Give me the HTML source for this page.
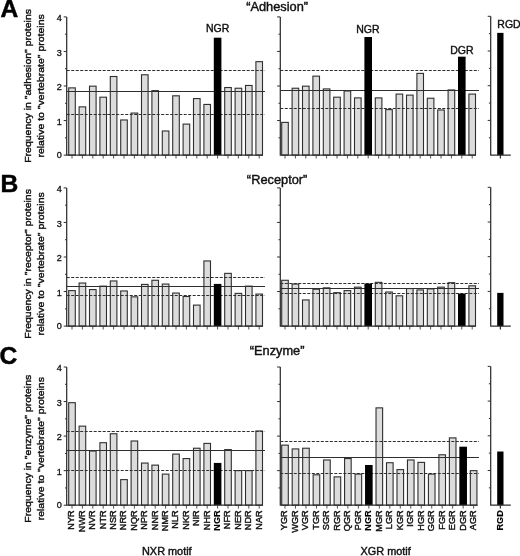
<!DOCTYPE html>
<html>
<head>
<meta charset="utf-8">
<title>Figure</title>
<style>
html,body{margin:0;padding:0;background:#fff;}
body{width:520px;height:556px;overflow:hidden;}
svg{display:block;filter:grayscale(1) blur(0.3px);}
svg text.pl{fill:#000;stroke:#000;stroke-width:0.5px;}
svg text.b{fill:#000;stroke:#000;stroke-width:0.12px;}
svg text.tk{stroke-width:0.3px;}
svg text{font-family:"Liberation Sans",sans-serif;fill:#111;stroke:#111;stroke-width:0.4px;}
</style>
</head>
<body>
<svg width="520" height="556" viewBox="0 0 520 556">
<rect width="520" height="556" fill="#fff"/>
<g>
<text x="0.5" y="17.4" font-size="24.6" font-weight="bold" class="pl">A</text>
<text transform="translate(277.1 10.8) scale(1.05 1)" font-size="12.2" text-anchor="middle">“Adhesion”</text>
<text transform="translate(31.2 85.9) rotate(-90) scale(1.117 1)" font-size="9.4" text-anchor="middle">Frequency in "adhesion" proteins</text>
<text transform="translate(43.8 85.9) rotate(-90) scale(1.117 1)" font-size="9.4" text-anchor="middle">relative to "vertebrate" proteins</text>
<rect x="68.7" y="87.88" width="6.6" height="67.22" fill="#dcdcdc" stroke="#2e2e2e" stroke-width="1.1"/>
<rect x="79.1" y="106.86" width="6.6" height="48.24" fill="#dcdcdc" stroke="#2e2e2e" stroke-width="1.1"/>
<rect x="89.5" y="86.16" width="6.6" height="68.94" fill="#dcdcdc" stroke="#2e2e2e" stroke-width="1.1"/>
<rect x="99.9" y="97.19" width="6.6" height="57.91" fill="#dcdcdc" stroke="#2e2e2e" stroke-width="1.1"/>
<rect x="110.3" y="76.5" width="6.6" height="78.6" fill="#dcdcdc" stroke="#2e2e2e" stroke-width="1.1"/>
<rect x="120.7" y="119.97" width="6.6" height="35.13" fill="#dcdcdc" stroke="#2e2e2e" stroke-width="1.1"/>
<rect x="131.1" y="113.06" width="6.6" height="42.03" fill="#dcdcdc" stroke="#2e2e2e" stroke-width="1.1"/>
<rect x="141.5" y="74.77" width="6.6" height="80.33" fill="#dcdcdc" stroke="#2e2e2e" stroke-width="1.1"/>
<rect x="151.9" y="90.64" width="6.6" height="64.46" fill="#dcdcdc" stroke="#2e2e2e" stroke-width="1.1"/>
<rect x="162.3" y="131" width="6.6" height="24.09" fill="#dcdcdc" stroke="#2e2e2e" stroke-width="1.1"/>
<rect x="172.7" y="95.81" width="6.6" height="59.28" fill="#dcdcdc" stroke="#2e2e2e" stroke-width="1.1"/>
<rect x="183.1" y="124.11" width="6.6" height="30.99" fill="#dcdcdc" stroke="#2e2e2e" stroke-width="1.1"/>
<rect x="193.5" y="98.58" width="6.6" height="56.52" fill="#dcdcdc" stroke="#2e2e2e" stroke-width="1.1"/>
<rect x="203.9" y="104.44" width="6.6" height="50.66" fill="#dcdcdc" stroke="#2e2e2e" stroke-width="1.1"/>
<rect x="224.7" y="87.53" width="6.6" height="67.56" fill="#dcdcdc" stroke="#2e2e2e" stroke-width="1.1"/>
<rect x="235.1" y="88.23" width="6.6" height="66.87" fill="#dcdcdc" stroke="#2e2e2e" stroke-width="1.1"/>
<rect x="245.5" y="85.47" width="6.6" height="69.63" fill="#dcdcdc" stroke="#2e2e2e" stroke-width="1.1"/>
<rect x="255.9" y="61.66" width="6.6" height="93.44" fill="#dcdcdc" stroke="#2e2e2e" stroke-width="1.1"/>
<path d="M72 155.1v3.4M82.4 155.1v3.4M92.8 155.1v3.4M103.2 155.1v3.4M113.6 155.1v3.4M124 155.1v3.4M134.4 155.1v3.4M144.8 155.1v3.4M155.2 155.1v3.4M165.6 155.1v3.4M176 155.1v3.4M186.4 155.1v3.4M196.8 155.1v3.4M207.2 155.1v3.4M217.6 155.1v3.4M228 155.1v3.4M238.4 155.1v3.4M248.8 155.1v3.4M259.2 155.1v3.4" stroke="#555" stroke-width="1" fill="none"/>
<path d="M66.7 91.5H265" stroke="#2e2e2e" stroke-width="1.2" fill="none"/>
<path d="M66.7 70.5H265M66.7 114.5H265" stroke="#2e2e2e" stroke-width="1.2" stroke-dasharray="3 1.5" fill="none"/>
<rect x="213.8" y="37.7" width="7.6" height="117.4" fill="#000"/>
<path d="M66.7 16.9V155.1H263" stroke="#2e2e2e" stroke-width="1.25" fill="none"/>
<path d="M66.7 155.1h-3M66.7 137.82h-1.7M66.7 120.55h-3M66.7 103.28h-1.7M66.7 86h-3M66.7 68.72h-1.7M66.7 51.45h-3M66.7 34.18h-1.7M66.7 16.9h-3" stroke="#2e2e2e" stroke-width="1" fill="none"/>
<text transform="translate(61.9 157.9) scale(1.08 1)" font-size="8.4" text-anchor="end" class="tk">0</text>
<text transform="translate(61.9 124.85) scale(1.08 1)" font-size="8.4" text-anchor="end" class="tk">1</text>
<text transform="translate(61.9 90.3) scale(1.08 1)" font-size="8.4" text-anchor="end" class="tk">2</text>
<text transform="translate(61.9 55.75) scale(1.08 1)" font-size="8.4" text-anchor="end" class="tk">3</text>
<text transform="translate(61.9 21.2) scale(1.08 1)" font-size="8.4" text-anchor="end" class="tk">4</text>
<rect x="281.7" y="122.38" width="6.6" height="32.72" fill="#dcdcdc" stroke="#2e2e2e" stroke-width="1.1"/>
<rect x="292.1" y="88.23" width="6.6" height="66.87" fill="#dcdcdc" stroke="#2e2e2e" stroke-width="1.1"/>
<rect x="302.5" y="86.16" width="6.6" height="68.94" fill="#dcdcdc" stroke="#2e2e2e" stroke-width="1.1"/>
<rect x="312.9" y="76.15" width="6.6" height="78.95" fill="#dcdcdc" stroke="#2e2e2e" stroke-width="1.1"/>
<rect x="323.3" y="88.92" width="6.6" height="66.18" fill="#dcdcdc" stroke="#2e2e2e" stroke-width="1.1"/>
<rect x="333.7" y="97.19" width="6.6" height="57.91" fill="#dcdcdc" stroke="#2e2e2e" stroke-width="1.1"/>
<rect x="344.1" y="90.98" width="6.6" height="64.11" fill="#dcdcdc" stroke="#2e2e2e" stroke-width="1.1"/>
<rect x="354.5" y="97.89" width="6.6" height="57.21" fill="#dcdcdc" stroke="#2e2e2e" stroke-width="1.1"/>
<rect x="375.3" y="97.89" width="6.6" height="57.21" fill="#dcdcdc" stroke="#2e2e2e" stroke-width="1.1"/>
<rect x="385.7" y="109.61" width="6.6" height="45.48" fill="#dcdcdc" stroke="#2e2e2e" stroke-width="1.1"/>
<rect x="396.1" y="94.09" width="6.6" height="61.01" fill="#dcdcdc" stroke="#2e2e2e" stroke-width="1.1"/>
<rect x="406.5" y="95.12" width="6.6" height="59.97" fill="#dcdcdc" stroke="#2e2e2e" stroke-width="1.1"/>
<rect x="416.9" y="73.39" width="6.6" height="81.71" fill="#dcdcdc" stroke="#2e2e2e" stroke-width="1.1"/>
<rect x="427.3" y="98.23" width="6.6" height="56.87" fill="#dcdcdc" stroke="#2e2e2e" stroke-width="1.1"/>
<rect x="437.7" y="109.96" width="6.6" height="45.14" fill="#dcdcdc" stroke="#2e2e2e" stroke-width="1.1"/>
<rect x="448.1" y="89.95" width="6.6" height="65.15" fill="#dcdcdc" stroke="#2e2e2e" stroke-width="1.1"/>
<rect x="468.9" y="94.09" width="6.6" height="61.01" fill="#dcdcdc" stroke="#2e2e2e" stroke-width="1.1"/>
<path d="M285 155.1v3.4M295.4 155.1v3.4M305.8 155.1v3.4M316.2 155.1v3.4M326.6 155.1v3.4M337 155.1v3.4M347.4 155.1v3.4M357.8 155.1v3.4M368.2 155.1v3.4M378.6 155.1v3.4M389 155.1v3.4M399.4 155.1v3.4M409.8 155.1v3.4M420.2 155.1v3.4M430.6 155.1v3.4M441 155.1v3.4M451.4 155.1v3.4M461.8 155.1v3.4M472.2 155.1v3.4" stroke="#555" stroke-width="1" fill="none"/>
<path d="M280.3 90.5H479" stroke="#2e2e2e" stroke-width="1.2" fill="none"/>
<path d="M280.3 70.5H479M280.3 108.5H479" stroke="#2e2e2e" stroke-width="1.2" stroke-dasharray="3 1.5" fill="none"/>
<rect x="364.4" y="37.01" width="7.6" height="118.09" fill="#000"/>
<rect x="458" y="56.67" width="7.6" height="98.42" fill="#000"/>
<path d="M280.3 16.9V155.1H476" stroke="#2e2e2e" stroke-width="1.25" fill="none"/>
<path d="M280.3 137.82h-1.8M280.3 120.55h-3.2M280.3 103.28h-1.8M280.3 86h-3.2M280.3 68.72h-1.8M280.3 51.45h-3.2M280.3 34.18h-1.8M280.3 16.9h-3.2" stroke="#2e2e2e" stroke-width="1" fill="none"/>
<rect x="497.2" y="32.87" width="6.3" height="122.23" fill="#000"/>
<path d="M490.7 16.3V155.1H510.8M500.4 155.1v3.4" stroke="#2e2e2e" stroke-width="1.25" fill="none"/>
<path d="M490.7 137.75h-1.8M490.7 120.4h-3.0M490.7 103.05h-1.8M490.7 85.7h-3.0M490.7 68.35h-1.8M490.7 51h-3.0M490.7 33.65h-1.8M490.7 16.3h-3.0" stroke="#2e2e2e" stroke-width="1" fill="none"/>
<text x="217.6" y="32" font-size="10.5" text-anchor="middle" fill="#000">NGR</text>
<text x="367.8" y="33.2" font-size="10.5" text-anchor="middle" fill="#000">NGR</text>
<text x="461.8" y="54" font-size="10.5" text-anchor="middle" fill="#000">DGR</text>
<text x="497.3" y="27.9" font-size="10.5" fill="#000">RGD</text>
</g>
<g>
<text x="0.6" y="191.9" font-size="24.6" font-weight="bold" class="pl">B</text>
<text transform="translate(277.1 183.6) scale(1.05 1)" font-size="12.2" text-anchor="middle">“Receptor”</text>
<text transform="translate(31.2 263.9) rotate(-90) scale(1.117 1)" font-size="9.4" text-anchor="middle">Frequency in "receptor" proteins</text>
<text transform="translate(43.8 263.9) rotate(-90) scale(1.117 1)" font-size="9.4" text-anchor="middle">relative to "vertebrate" proteins</text>
<rect x="68.7" y="290.62" width="6.6" height="35.48" fill="#dcdcdc" stroke="#2e2e2e" stroke-width="1.1"/>
<rect x="79.1" y="283.03" width="6.6" height="43.07" fill="#dcdcdc" stroke="#2e2e2e" stroke-width="1.1"/>
<rect x="89.5" y="289.58" width="6.6" height="36.52" fill="#dcdcdc" stroke="#2e2e2e" stroke-width="1.1"/>
<rect x="99.9" y="286.13" width="6.6" height="39.97" fill="#dcdcdc" stroke="#2e2e2e" stroke-width="1.1"/>
<rect x="110.3" y="280.96" width="6.6" height="45.14" fill="#dcdcdc" stroke="#2e2e2e" stroke-width="1.1"/>
<rect x="120.7" y="290.96" width="6.6" height="35.14" fill="#dcdcdc" stroke="#2e2e2e" stroke-width="1.1"/>
<rect x="131.1" y="296.83" width="6.6" height="29.27" fill="#dcdcdc" stroke="#2e2e2e" stroke-width="1.1"/>
<rect x="141.5" y="284.41" width="6.6" height="41.69" fill="#dcdcdc" stroke="#2e2e2e" stroke-width="1.1"/>
<rect x="151.9" y="280.27" width="6.6" height="45.83" fill="#dcdcdc" stroke="#2e2e2e" stroke-width="1.1"/>
<rect x="162.3" y="284.06" width="6.6" height="42.04" fill="#dcdcdc" stroke="#2e2e2e" stroke-width="1.1"/>
<rect x="172.7" y="293.04" width="6.6" height="33.06" fill="#dcdcdc" stroke="#2e2e2e" stroke-width="1.1"/>
<rect x="183.1" y="296.49" width="6.6" height="29.62" fill="#dcdcdc" stroke="#2e2e2e" stroke-width="1.1"/>
<rect x="193.5" y="305.11" width="6.6" height="20.99" fill="#dcdcdc" stroke="#2e2e2e" stroke-width="1.1"/>
<rect x="203.9" y="260.95" width="6.6" height="65.15" fill="#dcdcdc" stroke="#2e2e2e" stroke-width="1.1"/>
<rect x="224.7" y="273.37" width="6.6" height="52.73" fill="#dcdcdc" stroke="#2e2e2e" stroke-width="1.1"/>
<rect x="235.1" y="293.38" width="6.6" height="32.72" fill="#dcdcdc" stroke="#2e2e2e" stroke-width="1.1"/>
<rect x="245.5" y="286.13" width="6.6" height="39.97" fill="#dcdcdc" stroke="#2e2e2e" stroke-width="1.1"/>
<rect x="255.9" y="294.07" width="6.6" height="32.03" fill="#dcdcdc" stroke="#2e2e2e" stroke-width="1.1"/>
<path d="M72 326.1v3.4M82.4 326.1v3.4M92.8 326.1v3.4M103.2 326.1v3.4M113.6 326.1v3.4M124 326.1v3.4M134.4 326.1v3.4M144.8 326.1v3.4M155.2 326.1v3.4M165.6 326.1v3.4M176 326.1v3.4M186.4 326.1v3.4M196.8 326.1v3.4M207.2 326.1v3.4M217.6 326.1v3.4M228 326.1v3.4M238.4 326.1v3.4M248.8 326.1v3.4M259.2 326.1v3.4" stroke="#555" stroke-width="1" fill="none"/>
<path d="M66.7 286.5H265" stroke="#2e2e2e" stroke-width="1.2" fill="none"/>
<path d="M66.7 277.5H265M66.7 295.5H265" stroke="#2e2e2e" stroke-width="1.2" stroke-dasharray="3 1.5" fill="none"/>
<rect x="213.8" y="283.91" width="7.6" height="42.19" fill="#000"/>
<path d="M66.7 187.9V326.1H263" stroke="#2e2e2e" stroke-width="1.25" fill="none"/>
<path d="M66.7 326.1h-3M66.7 308.83h-1.7M66.7 291.55h-3M66.7 274.28h-1.7M66.7 257h-3M66.7 239.73h-1.7M66.7 222.45h-3M66.7 205.18h-1.7M66.7 187.9h-3" stroke="#2e2e2e" stroke-width="1" fill="none"/>
<text transform="translate(61.9 328.9) scale(1.08 1)" font-size="8.4" text-anchor="end" class="tk">0</text>
<text transform="translate(61.9 295.85) scale(1.08 1)" font-size="8.4" text-anchor="end" class="tk">1</text>
<text transform="translate(61.9 261.3) scale(1.08 1)" font-size="8.4" text-anchor="end" class="tk">2</text>
<text transform="translate(61.9 226.75) scale(1.08 1)" font-size="8.4" text-anchor="end" class="tk">3</text>
<text transform="translate(61.9 192.2) scale(1.08 1)" font-size="8.4" text-anchor="end" class="tk">4</text>
<rect x="281.7" y="280.27" width="6.6" height="45.83" fill="#dcdcdc" stroke="#2e2e2e" stroke-width="1.1"/>
<rect x="292.1" y="284.06" width="6.6" height="42.04" fill="#dcdcdc" stroke="#2e2e2e" stroke-width="1.1"/>
<rect x="302.5" y="299.94" width="6.6" height="26.17" fill="#dcdcdc" stroke="#2e2e2e" stroke-width="1.1"/>
<rect x="312.9" y="289.24" width="6.6" height="36.86" fill="#dcdcdc" stroke="#2e2e2e" stroke-width="1.1"/>
<rect x="323.3" y="287.86" width="6.6" height="38.24" fill="#dcdcdc" stroke="#2e2e2e" stroke-width="1.1"/>
<rect x="333.7" y="292.69" width="6.6" height="33.41" fill="#dcdcdc" stroke="#2e2e2e" stroke-width="1.1"/>
<rect x="344.1" y="290.62" width="6.6" height="35.48" fill="#dcdcdc" stroke="#2e2e2e" stroke-width="1.1"/>
<rect x="354.5" y="287.17" width="6.6" height="38.93" fill="#dcdcdc" stroke="#2e2e2e" stroke-width="1.1"/>
<rect x="375.3" y="282.34" width="6.6" height="43.76" fill="#dcdcdc" stroke="#2e2e2e" stroke-width="1.1"/>
<rect x="385.7" y="292" width="6.6" height="34.1" fill="#dcdcdc" stroke="#2e2e2e" stroke-width="1.1"/>
<rect x="396.1" y="295.8" width="6.6" height="30.31" fill="#dcdcdc" stroke="#2e2e2e" stroke-width="1.1"/>
<rect x="406.5" y="288.55" width="6.6" height="37.55" fill="#dcdcdc" stroke="#2e2e2e" stroke-width="1.1"/>
<rect x="416.9" y="289.93" width="6.6" height="36.17" fill="#dcdcdc" stroke="#2e2e2e" stroke-width="1.1"/>
<rect x="427.3" y="288.89" width="6.6" height="37.21" fill="#dcdcdc" stroke="#2e2e2e" stroke-width="1.1"/>
<rect x="437.7" y="287.17" width="6.6" height="38.93" fill="#dcdcdc" stroke="#2e2e2e" stroke-width="1.1"/>
<rect x="448.1" y="282.69" width="6.6" height="43.42" fill="#dcdcdc" stroke="#2e2e2e" stroke-width="1.1"/>
<rect x="468.9" y="285.79" width="6.6" height="40.31" fill="#dcdcdc" stroke="#2e2e2e" stroke-width="1.1"/>
<path d="M285 326.1v3.4M295.4 326.1v3.4M305.8 326.1v3.4M316.2 326.1v3.4M326.6 326.1v3.4M337 326.1v3.4M347.4 326.1v3.4M357.8 326.1v3.4M368.2 326.1v3.4M378.6 326.1v3.4M389 326.1v3.4M399.4 326.1v3.4M409.8 326.1v3.4M420.2 326.1v3.4M430.6 326.1v3.4M441 326.1v3.4M451.4 326.1v3.4M461.8 326.1v3.4M472.2 326.1v3.4" stroke="#555" stroke-width="1" fill="none"/>
<path d="M280.3 288.5H479" stroke="#2e2e2e" stroke-width="1.2" fill="none"/>
<path d="M280.3 283.5H479M280.3 293.5H479" stroke="#2e2e2e" stroke-width="1.2" stroke-dasharray="3 1.5" fill="none"/>
<rect x="364.4" y="283.56" width="7.6" height="42.54" fill="#000"/>
<rect x="458" y="293.57" width="7.6" height="32.53" fill="#000"/>
<path d="M280.3 187.9V326.1H476" stroke="#2e2e2e" stroke-width="1.25" fill="none"/>
<path d="M280.3 308.83h-1.8M280.3 291.55h-3.2M280.3 274.28h-1.8M280.3 257h-3.2M280.3 239.73h-1.8M280.3 222.45h-3.2M280.3 205.18h-1.8M280.3 187.9h-3.2" stroke="#2e2e2e" stroke-width="1" fill="none"/>
<rect x="497.2" y="292.88" width="6.3" height="33.22" fill="#000"/>
<path d="M490.7 187.3V326.1H510.8M500.4 326.1v3.4" stroke="#2e2e2e" stroke-width="1.25" fill="none"/>
<path d="M490.7 308.75h-1.8M490.7 291.4h-3.0M490.7 274.05h-1.8M490.7 256.7h-3.0M490.7 239.35h-1.8M490.7 222h-3.0M490.7 204.65h-1.8M490.7 187.3h-3.0" stroke="#2e2e2e" stroke-width="1" fill="none"/>
</g>
<g>
<text x="-0.6" y="363.9" font-size="24.6" font-weight="bold" class="pl">C</text>
<text transform="translate(277.1 355.2) scale(1.05 1)" font-size="12.2" text-anchor="middle">“Enzyme”</text>
<text transform="translate(31.2 448.7) rotate(-90) scale(1.117 1)" font-size="9.4" text-anchor="middle">Frequency in "enzyme" proteins</text>
<text transform="translate(43.8 448.7) rotate(-90) scale(1.117 1)" font-size="9.4" text-anchor="middle">relative to "vertebrate" proteins</text>
<rect x="68.7" y="402.69" width="6.6" height="102.51" fill="#dcdcdc" stroke="#2e2e2e" stroke-width="1.1"/>
<rect x="79.1" y="426.15" width="6.6" height="79.05" fill="#dcdcdc" stroke="#2e2e2e" stroke-width="1.1"/>
<rect x="89.5" y="450.99" width="6.6" height="54.21" fill="#dcdcdc" stroke="#2e2e2e" stroke-width="1.1"/>
<rect x="99.9" y="442.71" width="6.6" height="62.49" fill="#dcdcdc" stroke="#2e2e2e" stroke-width="1.1"/>
<rect x="110.3" y="433.74" width="6.6" height="71.46" fill="#dcdcdc" stroke="#2e2e2e" stroke-width="1.1"/>
<rect x="120.7" y="479.62" width="6.6" height="25.57" fill="#dcdcdc" stroke="#2e2e2e" stroke-width="1.1"/>
<rect x="131.1" y="440.99" width="6.6" height="64.21" fill="#dcdcdc" stroke="#2e2e2e" stroke-width="1.1"/>
<rect x="141.5" y="463.06" width="6.6" height="42.13" fill="#dcdcdc" stroke="#2e2e2e" stroke-width="1.1"/>
<rect x="151.9" y="465.13" width="6.6" height="40.06" fill="#dcdcdc" stroke="#2e2e2e" stroke-width="1.1"/>
<rect x="162.3" y="474.11" width="6.6" height="31.09" fill="#dcdcdc" stroke="#2e2e2e" stroke-width="1.1"/>
<rect x="172.7" y="454.1" width="6.6" height="51.1" fill="#dcdcdc" stroke="#2e2e2e" stroke-width="1.1"/>
<rect x="183.1" y="458.58" width="6.6" height="46.62" fill="#dcdcdc" stroke="#2e2e2e" stroke-width="1.1"/>
<rect x="193.5" y="448.23" width="6.6" height="56.97" fill="#dcdcdc" stroke="#2e2e2e" stroke-width="1.1"/>
<rect x="203.9" y="443.4" width="6.6" height="61.8" fill="#dcdcdc" stroke="#2e2e2e" stroke-width="1.1"/>
<rect x="224.7" y="449.61" width="6.6" height="55.59" fill="#dcdcdc" stroke="#2e2e2e" stroke-width="1.1"/>
<rect x="235.1" y="470.65" width="6.6" height="34.55" fill="#dcdcdc" stroke="#2e2e2e" stroke-width="1.1"/>
<rect x="245.5" y="470.65" width="6.6" height="34.55" fill="#dcdcdc" stroke="#2e2e2e" stroke-width="1.1"/>
<rect x="255.9" y="430.98" width="6.6" height="74.22" fill="#dcdcdc" stroke="#2e2e2e" stroke-width="1.1"/>
<path d="M72 505.2v3.4M82.4 505.2v3.4M92.8 505.2v3.4M103.2 505.2v3.4M113.6 505.2v3.4M124 505.2v3.4M134.4 505.2v3.4M144.8 505.2v3.4M155.2 505.2v3.4M165.6 505.2v3.4M176 505.2v3.4M186.4 505.2v3.4M196.8 505.2v3.4M207.2 505.2v3.4M217.6 505.2v3.4M228 505.2v3.4M238.4 505.2v3.4M248.8 505.2v3.4M259.2 505.2v3.4" stroke="#555" stroke-width="1" fill="none"/>
<path d="M66.7 450.5H265" stroke="#2e2e2e" stroke-width="1.2" fill="none"/>
<path d="M66.7 431.5H265M66.7 470.5H265" stroke="#2e2e2e" stroke-width="1.2" stroke-dasharray="3 1.5" fill="none"/>
<rect x="213.8" y="462.91" width="7.6" height="42.29" fill="#000"/>
<path d="M66.7 367V505.2H263" stroke="#2e2e2e" stroke-width="1.25" fill="none"/>
<path d="M66.7 505.2h-3M66.7 487.93h-1.7M66.7 470.65h-3M66.7 453.38h-1.7M66.7 436.1h-3M66.7 418.82h-1.7M66.7 401.55h-3M66.7 384.27h-1.7M66.7 367h-3" stroke="#2e2e2e" stroke-width="1" fill="none"/>
<text transform="translate(61.9 508) scale(1.08 1)" font-size="8.4" text-anchor="end" class="tk">0</text>
<text transform="translate(61.9 474.95) scale(1.08 1)" font-size="8.4" text-anchor="end" class="tk">1</text>
<text transform="translate(61.9 440.4) scale(1.08 1)" font-size="8.4" text-anchor="end" class="tk">2</text>
<text transform="translate(61.9 405.85) scale(1.08 1)" font-size="8.4" text-anchor="end" class="tk">3</text>
<text transform="translate(61.9 371.3) scale(1.08 1)" font-size="8.4" text-anchor="end" class="tk">4</text>
<rect x="281.7" y="445.12" width="6.6" height="60.07" fill="#dcdcdc" stroke="#2e2e2e" stroke-width="1.1"/>
<rect x="292.18" y="448.92" width="6.6" height="56.28" fill="#dcdcdc" stroke="#2e2e2e" stroke-width="1.1"/>
<rect x="302.66" y="448.23" width="6.6" height="56.97" fill="#dcdcdc" stroke="#2e2e2e" stroke-width="1.1"/>
<rect x="313.14" y="474.8" width="6.6" height="30.4" fill="#dcdcdc" stroke="#2e2e2e" stroke-width="1.1"/>
<rect x="323.62" y="459.96" width="6.6" height="45.24" fill="#dcdcdc" stroke="#2e2e2e" stroke-width="1.1"/>
<rect x="334.1" y="476.87" width="6.6" height="28.33" fill="#dcdcdc" stroke="#2e2e2e" stroke-width="1.1"/>
<rect x="344.58" y="458.58" width="6.6" height="46.62" fill="#dcdcdc" stroke="#2e2e2e" stroke-width="1.1"/>
<rect x="355.06" y="474.11" width="6.6" height="31.09" fill="#dcdcdc" stroke="#2e2e2e" stroke-width="1.1"/>
<rect x="376.02" y="407.87" width="6.6" height="97.33" fill="#dcdcdc" stroke="#2e2e2e" stroke-width="1.1"/>
<rect x="386.5" y="462.72" width="6.6" height="42.48" fill="#dcdcdc" stroke="#2e2e2e" stroke-width="1.1"/>
<rect x="396.98" y="469.62" width="6.6" height="35.58" fill="#dcdcdc" stroke="#2e2e2e" stroke-width="1.1"/>
<rect x="407.46" y="459.96" width="6.6" height="45.24" fill="#dcdcdc" stroke="#2e2e2e" stroke-width="1.1"/>
<rect x="417.94" y="462.38" width="6.6" height="42.82" fill="#dcdcdc" stroke="#2e2e2e" stroke-width="1.1"/>
<rect x="428.42" y="474.11" width="6.6" height="31.09" fill="#dcdcdc" stroke="#2e2e2e" stroke-width="1.1"/>
<rect x="438.9" y="454.79" width="6.6" height="50.41" fill="#dcdcdc" stroke="#2e2e2e" stroke-width="1.1"/>
<rect x="449.38" y="437.88" width="6.6" height="67.32" fill="#dcdcdc" stroke="#2e2e2e" stroke-width="1.1"/>
<rect x="470.34" y="470.65" width="6.6" height="34.55" fill="#dcdcdc" stroke="#2e2e2e" stroke-width="1.1"/>
<path d="M285 505.2v3.4M295.48 505.2v3.4M305.96 505.2v3.4M316.44 505.2v3.4M326.92 505.2v3.4M337.4 505.2v3.4M347.88 505.2v3.4M358.36 505.2v3.4M368.84 505.2v3.4M379.32 505.2v3.4M389.8 505.2v3.4M400.28 505.2v3.4M410.76 505.2v3.4M421.24 505.2v3.4M431.72 505.2v3.4M442.2 505.2v3.4M452.68 505.2v3.4M463.16 505.2v3.4M473.64 505.2v3.4" stroke="#555" stroke-width="1" fill="none"/>
<path d="M280.3 457.5H479" stroke="#2e2e2e" stroke-width="1.2" fill="none"/>
<path d="M280.3 441.5H479M280.3 473.5H479" stroke="#2e2e2e" stroke-width="1.2" stroke-dasharray="3 1.5" fill="none"/>
<rect x="365.04" y="464.98" width="7.6" height="40.22" fill="#000"/>
<rect x="459.36" y="446.69" width="7.6" height="58.5" fill="#000"/>
<path d="M280.3 367V505.2H477.44" stroke="#2e2e2e" stroke-width="1.25" fill="none"/>
<path d="M280.3 487.93h-1.8M280.3 470.65h-3.2M280.3 453.38h-1.8M280.3 436.1h-3.2M280.3 418.82h-1.8M280.3 401.55h-3.2M280.3 384.27h-1.8M280.3 367h-3.2" stroke="#2e2e2e" stroke-width="1" fill="none"/>
<rect x="497.2" y="451.52" width="6.3" height="53.68" fill="#000"/>
<path d="M490.7 366.4V505.2H510.8M500.4 505.2v3.4" stroke="#2e2e2e" stroke-width="1.25" fill="none"/>
<path d="M490.7 487.85h-1.8M490.7 470.5h-3.0M490.7 453.15h-1.8M490.7 435.8h-3.0M490.7 418.45h-1.8M490.7 401.1h-3.0M490.7 383.75h-1.8M490.7 366.4h-3.0" stroke="#2e2e2e" stroke-width="1" fill="none"/>
</g>
<text transform="translate(74.4 510.4) rotate(-90) scale(1.1 1)" font-size="8.3" text-anchor="end">NYR</text>
<text transform="translate(84.8 510.4) rotate(-90) scale(1.1 1)" font-size="8.3" text-anchor="end">NWR</text>
<text transform="translate(95.2 510.4) rotate(-90) scale(1.1 1)" font-size="8.3" text-anchor="end">NVR</text>
<text transform="translate(105.6 510.4) rotate(-90) scale(1.1 1)" font-size="8.3" text-anchor="end">NTR</text>
<text transform="translate(116 510.4) rotate(-90) scale(1.1 1)" font-size="8.3" text-anchor="end">NSR</text>
<text transform="translate(126.4 510.4) rotate(-90) scale(1.1 1)" font-size="8.3" text-anchor="end">NRR</text>
<text transform="translate(136.8 510.4) rotate(-90) scale(1.1 1)" font-size="8.3" text-anchor="end">NQR</text>
<text transform="translate(147.2 510.4) rotate(-90) scale(1.1 1)" font-size="8.3" text-anchor="end">NPR</text>
<text transform="translate(157.6 510.4) rotate(-90) scale(1.1 1)" font-size="8.3" text-anchor="end">NNR</text>
<text transform="translate(168 510.4) rotate(-90) scale(1.1 1)" font-size="8.3" text-anchor="end">NMR</text>
<text transform="translate(178.4 510.4) rotate(-90) scale(1.1 1)" font-size="8.3" text-anchor="end">NLR</text>
<text transform="translate(188.8 510.4) rotate(-90) scale(1.1 1)" font-size="8.3" text-anchor="end">NKR</text>
<text transform="translate(199.2 510.4) rotate(-90) scale(1.1 1)" font-size="8.3" text-anchor="end">NIR</text>
<text transform="translate(209.6 510.4) rotate(-90) scale(1.1 1)" font-size="8.3" text-anchor="end">NHR</text>
<text transform="translate(220 510.4) rotate(-90) scale(1.1 1)" font-size="8.3" text-anchor="end" font-weight="bold" class="b">NGR</text>
<text transform="translate(230.4 510.4) rotate(-90) scale(1.1 1)" font-size="8.3" text-anchor="end">NFR</text>
<text transform="translate(240.8 510.4) rotate(-90) scale(1.1 1)" font-size="8.3" text-anchor="end">NER</text>
<text transform="translate(251.2 510.4) rotate(-90) scale(1.1 1)" font-size="8.3" text-anchor="end">NDR</text>
<text transform="translate(261.6 510.4) rotate(-90) scale(1.1 1)" font-size="8.3" text-anchor="end">NAR</text>
<text transform="translate(287.4 510.4) rotate(-90) scale(1.1 1)" font-size="8.3" text-anchor="end">YGR</text>
<text transform="translate(297.88 510.4) rotate(-90) scale(1.1 1)" font-size="8.3" text-anchor="end">WGR</text>
<text transform="translate(308.36 510.4) rotate(-90) scale(1.1 1)" font-size="8.3" text-anchor="end">VGR</text>
<text transform="translate(318.84 510.4) rotate(-90) scale(1.1 1)" font-size="8.3" text-anchor="end">TGR</text>
<text transform="translate(329.32 510.4) rotate(-90) scale(1.1 1)" font-size="8.3" text-anchor="end">SGR</text>
<text transform="translate(339.8 510.4) rotate(-90) scale(1.1 1)" font-size="8.3" text-anchor="end">RGR</text>
<text transform="translate(350.28 510.4) rotate(-90) scale(1.1 1)" font-size="8.3" text-anchor="end">QGR</text>
<text transform="translate(360.76 510.4) rotate(-90) scale(1.1 1)" font-size="8.3" text-anchor="end">PGR</text>
<text transform="translate(371.24 510.4) rotate(-90) scale(1.1 1)" font-size="8.3" text-anchor="end" font-weight="bold" class="b">NGR</text>
<text transform="translate(381.72 510.4) rotate(-90) scale(1.1 1)" font-size="8.3" text-anchor="end">MGR</text>
<text transform="translate(392.2 510.4) rotate(-90) scale(1.1 1)" font-size="8.3" text-anchor="end">LGR</text>
<text transform="translate(402.68 510.4) rotate(-90) scale(1.1 1)" font-size="8.3" text-anchor="end">KGR</text>
<text transform="translate(413.16 510.4) rotate(-90) scale(1.1 1)" font-size="8.3" text-anchor="end">IGR</text>
<text transform="translate(423.64 510.4) rotate(-90) scale(1.1 1)" font-size="8.3" text-anchor="end">HGR</text>
<text transform="translate(434.12 510.4) rotate(-90) scale(1.1 1)" font-size="8.3" text-anchor="end">GGR</text>
<text transform="translate(444.6 510.4) rotate(-90) scale(1.1 1)" font-size="8.3" text-anchor="end">FGR</text>
<text transform="translate(455.08 510.4) rotate(-90) scale(1.1 1)" font-size="8.3" text-anchor="end">EGR</text>
<text transform="translate(465.56 510.4) rotate(-90) scale(1.1 1)" font-size="8.3" text-anchor="end">DGR</text>
<text transform="translate(476.04 510.4) rotate(-90) scale(1.1 1)" font-size="8.3" text-anchor="end">AGR</text>
<text transform="translate(502.8 510.2) rotate(-90) scale(1.1 1)" font-size="8.3" text-anchor="end" font-weight="bold" class="b">RGD</text>
<text transform="translate(142 555) scale(1.07 1)" font-size="10.2">NXR motif</text>
<text transform="translate(360.5 555) scale(1.07 1)" font-size="10.2">XGR motif</text>
</svg>
</body>
</html>
